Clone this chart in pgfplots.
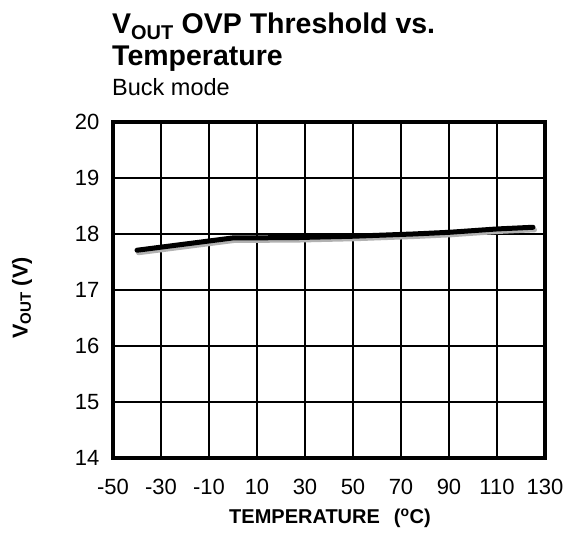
\documentclass[border=0pt]{standalone}
\usepackage{fontspec}
\setmainfont{Liberation Sans}
\usepackage{pgfplots}
\pgfplotsset{compat=1.18}
\begin{document}
\begin{tikzpicture}
\useasboundingbox (-113pt,-79pt) rectangle (455pt,458pt);
\begin{axis}[
  at={(0pt,0pt)}, anchor=south west,
  scale only axis, width=432pt, height=336pt,
  xmin=-50, xmax=130, ymin=14, ymax=20,
  xtick={-50,-30,...,130}, ytick={14,15,...,20},
  grid=major, major grid style={black, line width=1.2pt},
  axis line style={line width=4.5pt}, 
  major tick length=0pt,
  tick label style={font=\fontsize{22}{24}\selectfont},
  /pgf/number format/assume math mode=true,
  xticklabel style={anchor=base, yshift=-37pt},
  yticklabel style={anchor=east, xshift=-10pt},
  xlabel={\textbf{TEMPERATURE\hspace{0.7em}(\textsuperscript{o}C)}},
  ylabel={\textbf{V\textsubscript{OUT} (V)}},
  xlabel style={font=\fontsize{20}{22}\selectfont, at={(axis description cs:0.5,0)}, anchor=base, yshift=-66pt, xshift=1pt},
  ylabel style={font=\fontsize{21.5}{23}\selectfont, at={([xshift=-91pt,yshift=-8pt]axis description cs:0,0.5)}, anchor=center},
  clip=false,
]
\addplot[black, line width=5pt, line join=round, line cap=round,
  preaction={draw=black!30, line width=5pt, transform canvas={shift={(1.5pt,-2.5pt)}}}]
  coordinates {(-40,17.71) (0,17.93) (25,17.935) (50,17.96) (75,18.0) (90,18.03) (110,18.09) (125,18.12)};
\end{axis}
\node[anchor=base west, inner sep=0pt, font=\fontsize{28.5}{30}\bfseries\selectfont] at (-1pt,424pt) {V\textsubscript{OUT} OVP Threshold vs.};
\node[anchor=base west, inner sep=0pt, font=\fontsize{28.5}{30}\bfseries\selectfont] at (-1pt,392pt) {Temperature};
\node[anchor=base west, inner sep=0pt, font=\fontsize{23.5}{26}\selectfont] at (-1pt,362pt) {Buck mode};
\end{tikzpicture}
\end{document}
